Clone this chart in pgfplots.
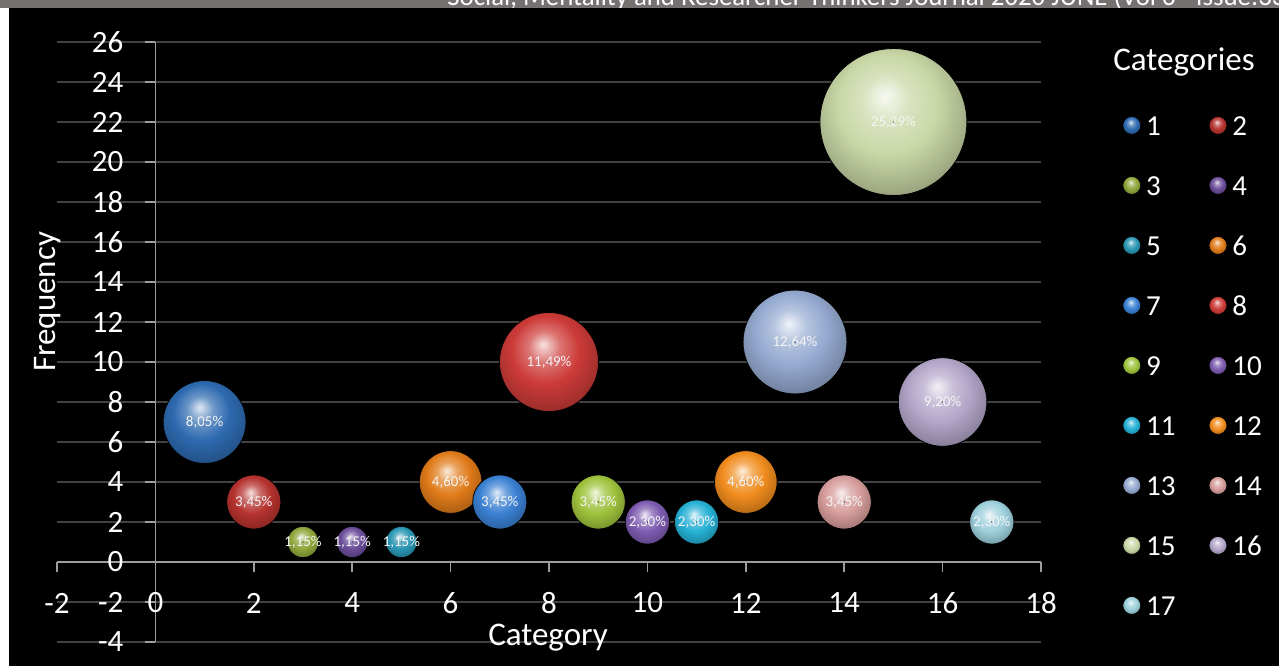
\documentclass[border=0pt]{standalone}
\usepackage{pgfplots}
\pgfplotsset{compat=1.18}
\usepackage{fontspec}
\setmainfont{Carlito}
\definecolor{c1}{HTML}{2E6AB0}
\definecolor{c2}{HTML}{B5322E}
\definecolor{c3}{HTML}{8FA63A}
\definecolor{c4}{HTML}{6A4C9A}
\definecolor{c5}{HTML}{2996B3}
\definecolor{c6}{HTML}{E07B1A}
\definecolor{c7}{HTML}{3A80D2}
\definecolor{c8}{HTML}{CC3B38}
\definecolor{c9}{HTML}{9EC23C}
\definecolor{c10}{HTML}{7D5BB0}
\definecolor{c11}{HTML}{25B0D4}
\definecolor{c12}{HTML}{F08C1E}
\definecolor{c13}{HTML}{95AAD0}
\definecolor{c14}{HTML}{D59C9A}
\definecolor{c15}{HTML}{C9D7A6}
\definecolor{c16}{HTML}{B3A6C9}
\definecolor{c17}{HTML}{9CCFDB}
\definecolor{hdr}{HTML}{767171}
\colorlet{bc}{black}
\pgfdeclareradialshading[bc]{sph}{\pgfqpoint{-3bp}{9bp}}{color(0bp)=(bc!15!white); color(8bp)=(bc!70!white); color(17bp)=(bc); color(28bp)=(bc!78!black); color(38bp)=(bc!50!black); color(50bp)=(black)}
\pgfplotsset{bub/.style 2 args={only marks, scatter, mark=*, mark size=0.01pt,
  visualization depends on={value \thisrow{y} \as \fq},
  scatter/@pre marker code/.code={\begingroup\pgfkeys{/pgf/fpu=false}\pgfmathsetmacro\rr{7.83*sqrt(\fq)}\global\let\rrg\rr\endgroup
    \colorlet{bc}{#1}\shade[shading=sph] (0pt,0pt) circle[radius=\rrg pt];
    \node[inner sep=0pt, font=\fontsize{7.5}{8}\selectfont, text=white!92!gray] at (0pt,0pt) {#2};},
  scatter/@post marker code/.code={},
  legend image code/.code={\colorlet{bc}{#1}\shade[shading=sph] (0pt,0pt) circle[radius=4.5pt];}}}
\begin{document}
\begin{tikzpicture}
\useasboundingbox (0,0) rectangle (639.5pt,333pt);
\fill[white] (0,0) rectangle (639.5pt,333pt);
\fill[black] (4.5pt,0) rectangle (639.5pt,333pt);
\begin{axis}[
 at={(28.5pt,12pt)}, anchor=south west,
 scale only axis, width=492pt, height=300pt,
 xmin=-2, xmax=18, ymin=-4, ymax=26,
 axis lines=middle, axis line style={-, draw=white!62!black, line width=0.8pt},
 hide obscured x ticks=false, hide obscured y ticks=false,
 xtick={-2,0,...,18}, ytick={-4,-2,...,26},
 tick align=outside, major tick length=5pt,
 tick style={draw=white!62!black, line width=0.8pt},
 ymajorgrids, grid style={draw=white!26!black, line width=0.7pt},
 ticklabel style={font=\fontsize{15.5}{18}\selectfont, text=white},
 /pgf/number format/assume math mode=true,
 xticklabel style={anchor=center, yshift=-15.5pt},
 yticklabel style={anchor=east, xshift=-7.5pt},
 xlabel={Category}, ylabel={Frequency},
 label style={font=\fontsize{16.5}{20}\selectfont, text=white},
 xlabel style={at={(axis description cs:0.499,0.0067)}, anchor=center},
 ylabel style={at={(axis description cs:-0.0091,0.567)}, anchor=center, rotate=90},
 clip=false,
 point meta min=0, point meta max=30,
 legend columns=2,
 legend style={at={(axis description cs:1.0762,0.8883)}, anchor=north west, draw=none, fill=none, text=white,
   font=\fontsize{14.5}{17}\selectfont, row sep=18pt,
   nodes={inner sep=1pt, text height=10pt, text depth=0pt},
   /tikz/every even column/.append style={column sep=15.5pt},
   /tikz/every odd column/.append style={column sep=1.5pt}},
 legend cell align=left,
]
\addplot[bub={c1}{8,05\%}] table[row sep=\\] {x y\\ 1 7\\}; \addlegendentry{1}
\addplot[bub={c2}{3,45\%}] table[row sep=\\] {x y\\ 2 3\\}; \addlegendentry{2}
\addplot[bub={c3}{1,15\%}] table[row sep=\\] {x y\\ 3 1\\}; \addlegendentry{3}
\addplot[bub={c4}{1,15\%}] table[row sep=\\] {x y\\ 4 1\\}; \addlegendentry{4}
\addplot[bub={c5}{1,15\%}] table[row sep=\\] {x y\\ 5 1\\}; \addlegendentry{5}
\addplot[bub={c6}{4,60\%}] table[row sep=\\] {x y\\ 6 4\\}; \addlegendentry{6}
\addplot[bub={c7}{3,45\%}] table[row sep=\\] {x y\\ 7 3\\}; \addlegendentry{7}
\addplot[bub={c8}{11,49\%}] table[row sep=\\] {x y\\ 8 10\\}; \addlegendentry{8}
\addplot[bub={c9}{3,45\%}] table[row sep=\\] {x y\\ 9 3\\}; \addlegendentry{9}
\addplot[bub={c10}{2,30\%}] table[row sep=\\] {x y\\ 10 2\\}; \addlegendentry{10}
\addplot[bub={c11}{2,30\%}] table[row sep=\\] {x y\\ 11 2\\}; \addlegendentry{11}
\addplot[bub={c12}{4,60\%}] table[row sep=\\] {x y\\ 12 4\\}; \addlegendentry{12}
\addplot[bub={c13}{12,64\%}] table[row sep=\\] {x y\\ 13 11\\}; \addlegendentry{13}
\addplot[bub={c14}{3,45\%}] table[row sep=\\] {x y\\ 14 3\\}; \addlegendentry{14}
\addplot[bub={c15}{25,29\%}] table[row sep=\\] {x y\\ 15 22\\}; \addlegendentry{15}
\addplot[bub={c16}{9,20\%}] table[row sep=\\] {x y\\ 16 8\\}; \addlegendentry{16}
\addplot[bub={c17}{2,30\%}] table[row sep=\\] {x y\\ 17 2\\}; \addlegendentry{17}
\node[text=white, font=\fontsize{16.5}{20}\selectfont] at (axis description cs:1.1453,0.9667) {Categories};
\end{axis}
\fill[hdr] (0,329pt) rectangle (639.5pt,333pt);
\begin{scope}
\clip (0,329pt) rectangle (639.5pt,333pt);
\node[anchor=base west, inner sep=0pt, text=white, font=\fontsize{13.4}{15}\selectfont] at (223.5pt,330.5pt) {Social, Mentality and Researcher Thinkers Journal 2020 JUNE (Vol 6 - Issue:33)};
\end{scope}
\end{tikzpicture}
\end{document}
